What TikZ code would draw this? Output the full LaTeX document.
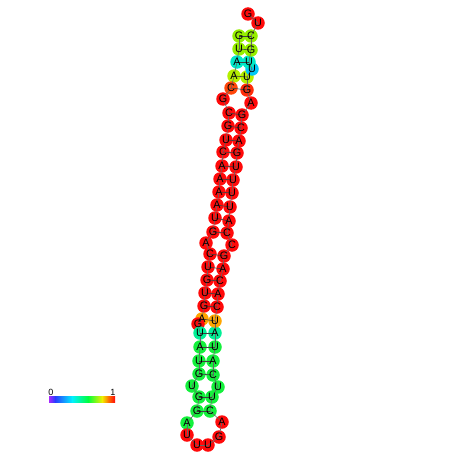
\documentclass[tikz,border=0pt]{standalone}
\usepackage{fontspec}
\setmainfont{Liberation Sans}
\definecolor{cR}{RGB}{255,10,10}
\definecolor{cOR}{RGB}{255,70,10}
\definecolor{cRO}{RGB}{255,45,10}
\definecolor{cYG}{RGB}{150,238,0}
\definecolor{cYL}{RGB}{180,240,0}
\definecolor{cCY}{RGB}{0,232,200}
\definecolor{cBL}{RGB}{0,200,245}
\definecolor{cOG}{RGB}{255,165,0}
\definecolor{cCG}{RGB}{0,240,150}
\definecolor{cGR}{RGB}{20,240,60}
\definecolor{cbP}{RGB}{165,40,255}
\definecolor{cbB}{RGB}{40,60,255}
\definecolor{cbC}{RGB}{0,240,255}
\definecolor{cbG}{RGB}{0,255,60}
\definecolor{cbY}{RGB}{240,240,0}
\definecolor{cbO}{RGB}{255,120,0}
\begin{document}
\begin{tikzpicture}[x=1pt,y=-1pt,
  base/.style={circle,minimum size=13.5pt,inner sep=0pt,draw=none},
  lbl/.style={inner sep=0pt,font=\fontsize{10.8}{10.8}\selectfont},
  bb/.style={draw=black!60,line width=0.6pt},
  bp/.style={draw=black!75,line width=0.6pt},
  tick/.style={inner sep=0pt,font=\fontsize{9}{9}\selectfont}]
\useasboundingbox (0,0) rectangle (452,452);
\foreach \i/\x/\y/\c in {
1/239/36/cYG, 2/239/49/cYG, 3/237/62/cCY, 4/234/76/cYL, 5/231/88/cOR,
6/223/99/cR, 7/229/113/cR, 8/228/126/cR, 9/226/140/cR, 10/223/152/cR,
11/222/166/cR, 12/220/179/cR, 13/219/192/cR, 14/217/205/cR, 15/215/218/cR,
16/213/232/cR, 17/206/243/cR, 18/210/254/cR, 19/208/267/cR, 20/207/280/cR,
21/205/293/cR, 22/204/306/cR, 23/202/319/cOG, 24/198/324/cR, 25/200/333/cCG,
26/200/347/cGR, 27/199/361/cGR, 28/199/374/cGR, 29/192/386/cGR, 30/199/397/cGR,
31/197/411/cGR, 32/187/423/cGR, 33/187/435/cR, 34/197/445/cR, 35/208/445/cR,
36/219/437/cR, 37/222/422/cR, 38/210/411/cGR, 39/212/397/cGR, 40/218/387/cGR,
41/213/375/cGR, 42/213/361/cGR, 43/215/347/cGR, 44/215/333/cCG, 45/215/321/cOG,
46/217/307/cR, 47/218/294/cR, 48/220/281/cR, 49/223/269/cR, 50/224/256/cR,
51/232/245/cR, 52/227/233/cR, 53/229/221/cR, 54/230/207/cR, 55/232/193/cR,
56/233/180/cR, 57/236/167/cR, 58/237/153/cR, 59/239/141/cR, 60/241/128/cR,
61/242/115/cR, 62/251/103/cR, 63/247/90/cRO, 64/247/77/cYL, 65/252/69/cBL,
66/249/62/cCY, 67/251/50/cYG, 68/251/36/cYG, 69/258/23/cR, 70/248/14/cR}
  {\node[base,fill=\c] (n\i) at (\x,\y) {};}
% backbone
\foreach \a [count=\b from 2] in {1,...,69}
  {\draw[bb] (n\a.center) -- (n\b.center);}
% base pairs
\foreach \a/\b in {1/68,2/67,3/66,4/64,5/63,7/61,8/60,9/59,10/58,11/57,12/56,
  13/55,14/54,15/53,16/52,18/50,19/49,20/48,21/47,22/46,23/45,25/44,26/43,
  27/42,28/41,30/39,31/38}
  {\draw[bp] (n\a.center) -- (n\b.center);}
% letters
\foreach \i/\l in {1/G,2/U,3/A,4/A,5/C,6/G,7/C,8/G,9/U,10/C,11/A,12/A,13/A,
  14/A,15/U,16/G,17/A,18/C,19/U,20/G,21/U,22/G,23/A,24/G,25/U,26/A,27/U,28/G,
  29/U,30/G,31/G,32/A,33/U,34/U,35/U,36/G,37/A,38/C,39/U,40/U,41/C,42/A,43/U,
  44/A,45/U,46/C,47/A,48/C,49/A,50/G,51/C,52/C,53/A,54/U,55/U,56/U,57/U,58/G,
  59/A,60/C,61/G,62/A,63/G,64/U,65/U,66/U,67/G,68/C,69/U,70/G}
  {\node[lbl] (t\i) at (n\i.center) {\l};}
% colour bar
\shade[left color=cbP,right color=cbB] (49,396) rectangle (55.2,402);
\shade[left color=cbB,right color=cbC] (55,396) rectangle (72.2,402);
\shade[left color=cbC,right color=cbG] (72,396) rectangle (88.2,402);
\shade[left color=cbG,right color=cbY] (88,396) rectangle (102.2,402);
\shade[left color=cbY,right color=cbO] (102,396) rectangle (108.2,402);
\shade[left color=cbO,right color=cR] (108,396) rectangle (115,402);
\node[tick] (z0) at (51,392) {0};
\node[tick] (z1) at (113,392) {1};
\end{tikzpicture}
\end{document}
